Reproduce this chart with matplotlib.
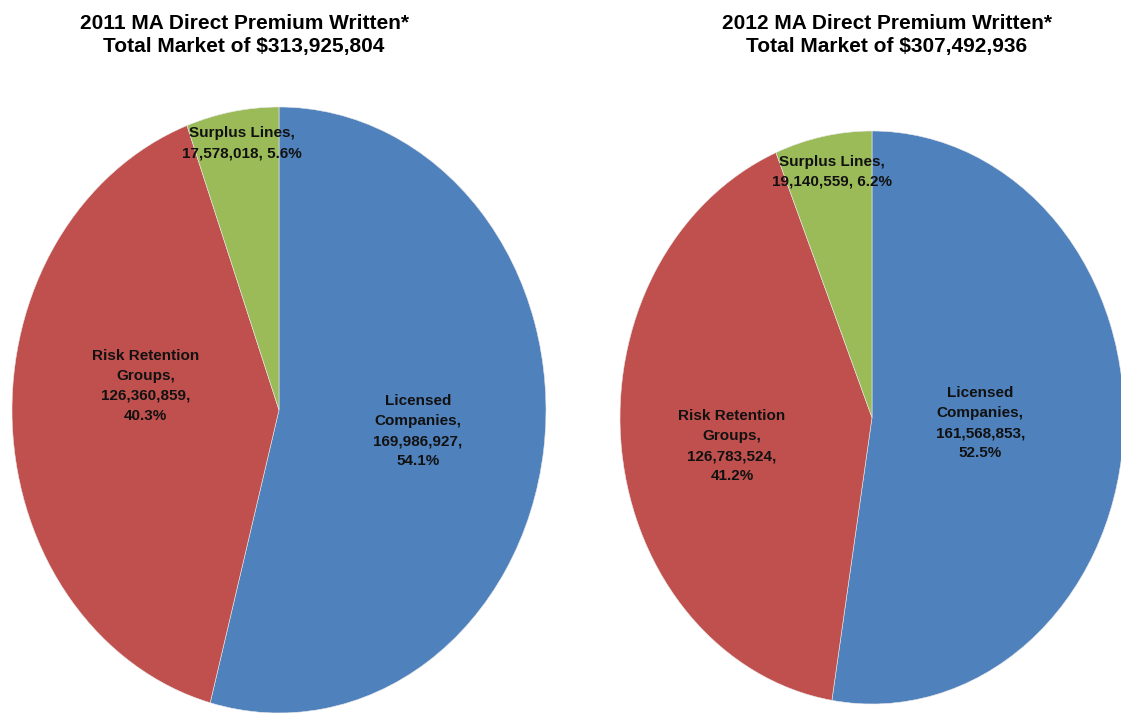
import matplotlib
matplotlib.use('Agg')
import matplotlib.pyplot as plt

CATEGORIES = ['Licensed\nCompanies', 'Risk Retention\nGroups', 'Surplus Lines']
YEARS = ['2011', '2012']
PREMIUM_2011 = [169986927, 126360859, 17578018]
PREMIUM_2012 = [161568853, 126783524, 19140559]
TOTALS = ['$313,925,804', '$307,492,936']

COLORS = ['#4F81BD', '#C0504D', '#9BBB59']
FONT = ['Liberation Sans Narrow', 'Liberation Sans', 'DejaVu Sans']

W, H = 1121, 713
fig = plt.figure(figsize=(W / 100, H / 100), dpi=100)


def px_axes(x0, x1, y0, y1):
    # pixel box (top-left origin) -> figure fraction
    return fig.add_axes([x0 / W, 1 - y1 / H, (x1 - x0) / W, (y1 - y0) / H])


def label_text(name, value, total):
    pct = f'{value / total * 100:.1f}%'
    num = f'{value:,}'
    if name == 'Surplus Lines':
        return f'{name},\n{num}, {pct}'
    return f'{name},\n{num},\n{pct}'


def draw_pie(ax, values, label_pos):
    total = sum(values)
    ax.pie(values, colors=COLORS, startangle=90, counterclock=False,
           wedgeprops=dict(linewidth=0.4, edgecolor='#e8e8e8'))
    ax.set_aspect('auto')
    ax.set_xlim(-1, 1)
    ax.set_ylim(-1, 1)
    ax.axis('off')
    for name, val, (x, y) in zip(CATEGORIES, values, label_pos):
        ax.text(x, y, label_text(name, val, total), ha='center', va='center',
                fontsize=11, fontweight='bold', family=FONT, linespacing=1.55,
                color='#111111')


ax1 = px_axes(12, 546, 107, 713)
draw_pie(ax1, PREMIUM_2011, [(0.52, -0.07), (-0.50, 0.08), (-0.14, 0.88)])

ax2 = px_axes(620, 1124, 131, 704)
draw_pie(ax2, PREMIUM_2012, [(0.43, -0.02), (-0.556, -0.10), (-0.16, 0.857)])

for cx, year, tot in zip([244, 887], YEARS, TOTALS):
    fig.text(cx / W, 1 - 35 / H,
             f'{year} MA Direct Premium Written*\nTotal Market of {tot}',
             ha='center', va='center', fontsize=15, fontweight='bold',
             family=FONT, linespacing=1.3)

fig.savefig('out.png', dpi=100)
